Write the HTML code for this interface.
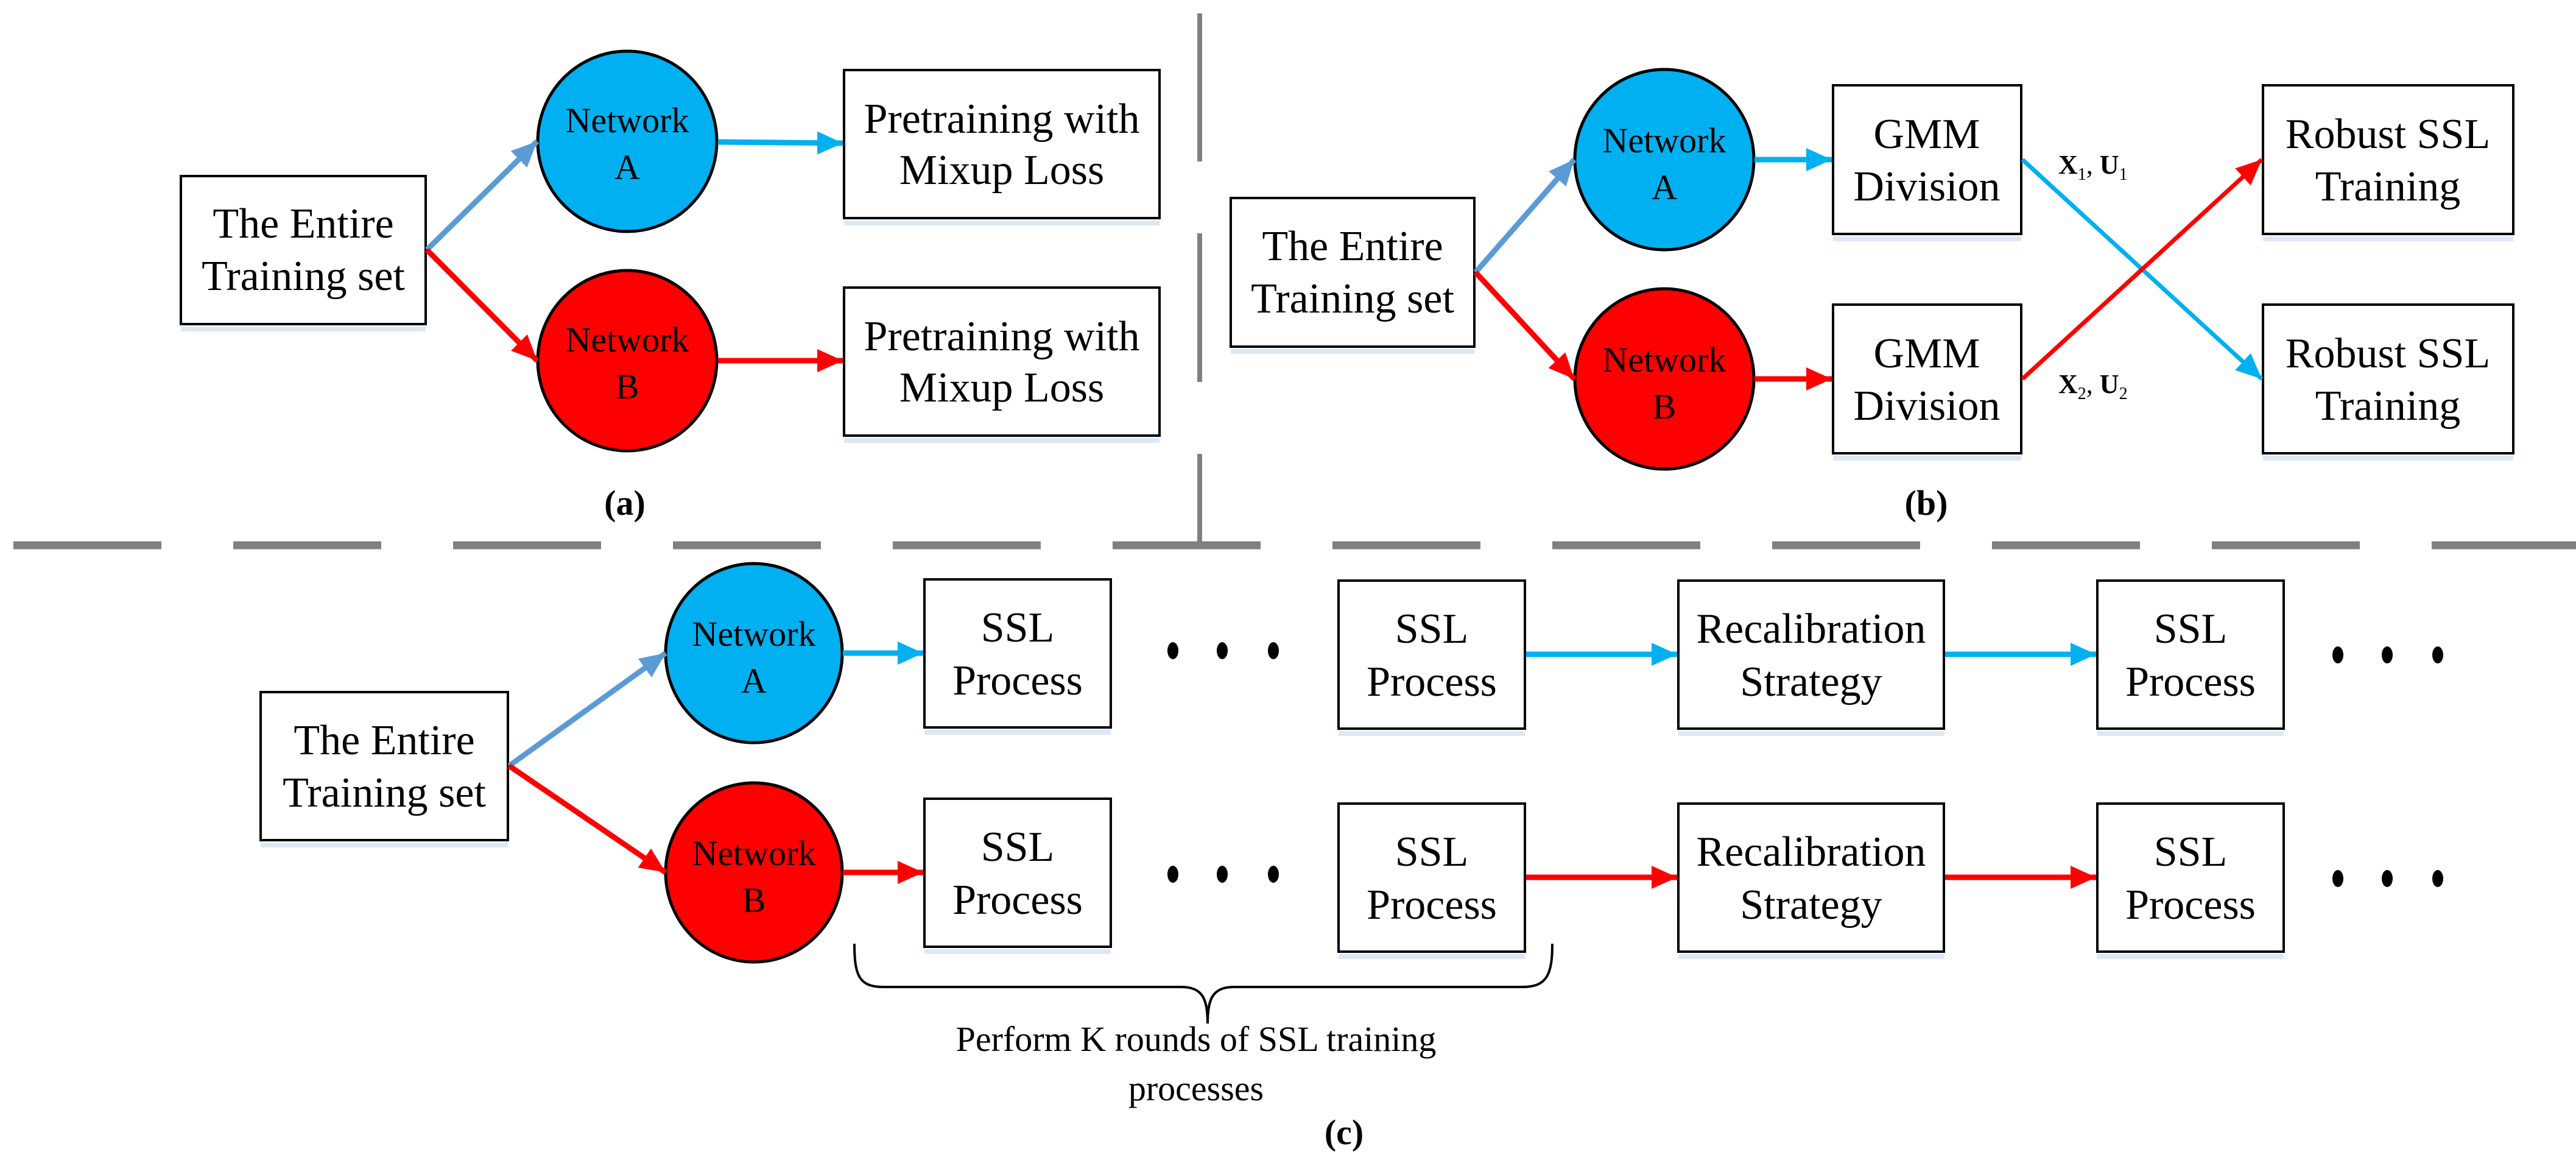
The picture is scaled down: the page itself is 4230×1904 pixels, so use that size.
<!DOCTYPE html>
<html><head><meta charset="utf-8"><style>
html,body{margin:0;padding:0;background:#fff;}
svg{display:block;font-family:"Liberation Serif",serif;}
text{font-family:"Liberation Serif",serif;fill:#000;}
</style></head><body>
<svg width="4230" height="1904" viewBox="0 0 4230 1904" xmlns="http://www.w3.org/2000/svg" font-family="Liberation Serif, serif">
<defs>
<marker id="mb" markerUnits="userSpaceOnUse" markerWidth="44" markerHeight="40" refX="42" refY="19" orient="auto"><path d="M0,0 L42,19 L0,38 z" fill="#00b0f0"/></marker>
<marker id="ml" markerUnits="userSpaceOnUse" markerWidth="44" markerHeight="40" refX="42" refY="19" orient="auto"><path d="M0,0 L42,19 L0,38 z" fill="#5b9bd5"/></marker>
<marker id="mr" markerUnits="userSpaceOnUse" markerWidth="44" markerHeight="40" refX="42" refY="19" orient="auto"><path d="M0,0 L42,19 L0,38 z" fill="#ff0000"/></marker>
</defs>

<g fill="#808080">
<rect x="1966" y="22" width="8" height="243"/>
<rect x="1966" y="383" width="8" height="244"/>
<rect x="1966" y="745" width="8" height="150"/>
</g>
<line x1="22" y1="895" x2="4230" y2="895" stroke="#808080" stroke-width="13" stroke-dasharray="243 118"/>

<g stroke="#000" stroke-width="4" fill="#fff">
<rect x="297" y="289" width="402" height="243"/>
<rect x="1386" y="115" width="518" height="243"/>
<rect x="1386" y="472" width="518" height="243"/>
<rect x="2021" y="325" width="400" height="244"/>
<rect x="3010" y="140" width="309" height="244"/>
<rect x="3010" y="500" width="309" height="244"/>
<rect x="3716" y="140" width="411" height="244"/>
<rect x="3716" y="500" width="411" height="244"/>
<rect x="428" y="1136" width="406" height="243"/>
<rect x="1518" y="951" width="306" height="243"/>
<rect x="1518" y="1311" width="306" height="243"/>
<rect x="2198" y="953" width="306" height="243"/>
<rect x="2198" y="1319" width="306" height="243"/>
<rect x="2756" y="953" width="436" height="243"/>
<rect x="2756" y="1319" width="436" height="243"/>
<rect x="3444" y="953" width="306" height="243"/>
<rect x="3444" y="1319" width="306" height="243"/>
</g>
<g fill="#dce8f6">
<rect x="297" y="536" width="402" height="8"/>
<rect x="1386" y="362" width="518" height="8"/><rect x="1386" y="719" width="518" height="8"/>
<rect x="2021" y="573" width="400" height="8"/>
<rect x="3010" y="388" width="309" height="8"/><rect x="3010" y="748" width="309" height="8"/>
<rect x="3716" y="388" width="411" height="8"/><rect x="3716" y="748" width="411" height="8"/>
<rect x="428" y="1383" width="406" height="8"/>
<rect x="1518" y="1198" width="306" height="8"/><rect x="1518" y="1558" width="306" height="8"/>
<rect x="2198" y="1200" width="306" height="8"/><rect x="2198" y="1566" width="306" height="8"/>
<rect x="2756" y="1200" width="436" height="8"/><rect x="2756" y="1566" width="436" height="8"/>
<rect x="3444" y="1200" width="306" height="8"/><rect x="3444" y="1566" width="306" height="8"/>
</g>

<g stroke="#000" stroke-width="5">
<ellipse cx="1030" cy="232" rx="147" ry="148" fill="#00b0f0"/>
<ellipse cx="1030" cy="592" rx="147" ry="148" fill="#ff0000"/>
<ellipse cx="2733" cy="262" rx="147" ry="148" fill="#00b0f0"/>
<ellipse cx="2733" cy="622" rx="147" ry="148" fill="#ff0000"/>
<ellipse cx="1238" cy="1072" rx="145" ry="147" fill="#00b0f0"/>
<ellipse cx="1238" cy="1432" rx="145" ry="147" fill="#ff0000"/>
</g>

<g stroke-width="9" fill="none">
<line x1="701" y1="410" x2="882" y2="232" stroke="#5b9bd5" marker-end="url(#ml)"/>
<line x1="701" y1="410" x2="882" y2="592" stroke="#ff0000" marker-end="url(#mr)"/>
<line x1="1179" y1="233" x2="1384" y2="235" stroke="#00b0f0" marker-end="url(#mb)"/>
<line x1="1179" y1="592" x2="1384" y2="592" stroke="#ff0000" marker-end="url(#mr)"/>
<line x1="2423" y1="447" x2="2585" y2="262" stroke="#5b9bd5" marker-end="url(#ml)"/>
<line x1="2423" y1="447" x2="2585" y2="622" stroke="#ff0000" marker-end="url(#mr)"/>
<line x1="2881" y1="262" x2="3008" y2="262" stroke="#00b0f0" marker-end="url(#mb)"/>
<line x1="2881" y1="622" x2="3008" y2="622" stroke="#ff0000" marker-end="url(#mr)"/>
<line x1="3321" y1="262" x2="3714" y2="622" stroke="#00b0f0" stroke-width="7" marker-end="url(#mb)"/>
<line x1="3321" y1="622" x2="3714" y2="262" stroke="#ff0000" stroke-width="7" marker-end="url(#mr)"/>
<line x1="836" y1="1257" x2="1093" y2="1072" stroke="#5b9bd5" marker-end="url(#ml)"/>
<line x1="836" y1="1257" x2="1093" y2="1432" stroke="#ff0000" marker-end="url(#mr)"/>
<line x1="1384" y1="1072" x2="1516" y2="1072" stroke="#00b0f0" marker-end="url(#mb)"/>
<line x1="1384" y1="1432" x2="1516" y2="1432" stroke="#ff0000" marker-end="url(#mr)"/>
<line x1="2506" y1="1074" x2="2754" y2="1074" stroke="#00b0f0" marker-end="url(#mb)"/>
<line x1="2506" y1="1440" x2="2754" y2="1440" stroke="#ff0000" marker-end="url(#mr)"/>
<line x1="3194" y1="1074" x2="3442" y2="1074" stroke="#00b0f0" marker-end="url(#mb)"/>
<line x1="3194" y1="1440" x2="3442" y2="1440" stroke="#ff0000" marker-end="url(#mr)"/>
</g>

<g fill="#000">
<ellipse cx="1926" cy="1068" rx="9" ry="14"/><ellipse cx="2007" cy="1068" rx="9" ry="14"/><ellipse cx="2091" cy="1068" rx="9" ry="14"/>
<ellipse cx="1926" cy="1435" rx="9" ry="14"/><ellipse cx="2007" cy="1435" rx="9" ry="14"/><ellipse cx="2091" cy="1435" rx="9" ry="14"/>
<ellipse cx="3839" cy="1075" rx="9" ry="14"/><ellipse cx="3920" cy="1075" rx="9" ry="14"/><ellipse cx="4003" cy="1075" rx="9" ry="14"/>
<ellipse cx="3839" cy="1442" rx="9" ry="14"/><ellipse cx="3920" cy="1442" rx="9" ry="14"/><ellipse cx="4003" cy="1442" rx="9" ry="14"/>
</g>

<path d="M1403,1549 C1403,1600 1410,1620 1450,1620 L1940,1620 C1975,1620 1983,1640 1983,1680 C1983,1640 1991,1620 2026,1620 L2500,1620 C2540,1620 2549,1600 2549,1549" fill="none" stroke="#000" stroke-width="4"/>

<g font-size="70" text-anchor="middle">
<text x="498" y="390">The Entire</text><text x="498" y="476">Training set</text>
<text x="1645" y="218">Pretraining with</text><text x="1645" y="302">Mixup  Loss</text>
<text x="1645" y="575">Pretraining with</text><text x="1645" y="659">Mixup  Loss</text>
<text x="2221" y="427">The Entire</text><text x="2221" y="513">Training set</text>
<text x="3164" y="243">GMM</text><text x="3164" y="329">Division</text>
<text x="3164" y="603">GMM</text><text x="3164" y="689">Division</text>
<text x="3921" y="243">Robust SSL</text><text x="3921" y="329">Training</text>
<text x="3921" y="603">Robust SSL</text><text x="3921" y="689">Training</text>
<text x="631" y="1238">The Entire</text><text x="631" y="1324">Training set</text>
<text x="1671" y="1053">SSL</text><text x="1671" y="1140">Process</text>
<text x="1671" y="1413">SSL</text><text x="1671" y="1500">Process</text>
<text x="2351" y="1055">SSL</text><text x="2351" y="1142">Process</text>
<text x="2351" y="1421">SSL</text><text x="2351" y="1508">Process</text>
<text x="2974" y="1055">Recalibration</text><text x="2974" y="1142">Strategy</text>
<text x="2974" y="1421">Recalibration</text><text x="2974" y="1508">Strategy</text>
<text x="3597" y="1055">SSL</text><text x="3597" y="1142">Process</text>
<text x="3597" y="1421">SSL</text><text x="3597" y="1508">Process</text>
</g>
<g font-size="58" text-anchor="middle">
<text x="1030" y="217">Network</text><text x="1030" y="294">A</text>
<text x="1030" y="577">Network</text><text x="1030" y="654">B</text>
<text x="2733" y="250">Network</text><text x="2733" y="327">A</text>
<text x="2733" y="610">Network</text><text x="2733" y="687">B</text>
<text x="1238" y="1060">Network</text><text x="1238" y="1137">A</text>
<text x="1238" y="1420">Network</text><text x="1238" y="1497">B</text>
<text x="1964" y="1725">Perform K rounds of SSL training</text>
<text x="1964" y="1806">processes</text>
</g>
<g font-size="44" font-weight="bold">
<text x="3380" y="285">X<tspan font-size="28" dy="10" font-weight="normal">1</tspan><tspan dy="-10" font-weight="normal">, </tspan>U<tspan font-size="28" dy="10" font-weight="normal">1</tspan></text>
<text x="3380" y="645">X<tspan font-size="28" dy="10" font-weight="normal">2</tspan><tspan dy="-10" font-weight="normal">, </tspan>U<tspan font-size="28" dy="10" font-weight="normal">2</tspan></text>
</g>
<g font-size="58" font-weight="bold" text-anchor="middle">
<text x="1026" y="845">(a)</text>
<text x="3163" y="845">(b)</text>
<text x="2207" y="1878">(c)</text>
</g>
</svg>
</body></html>
